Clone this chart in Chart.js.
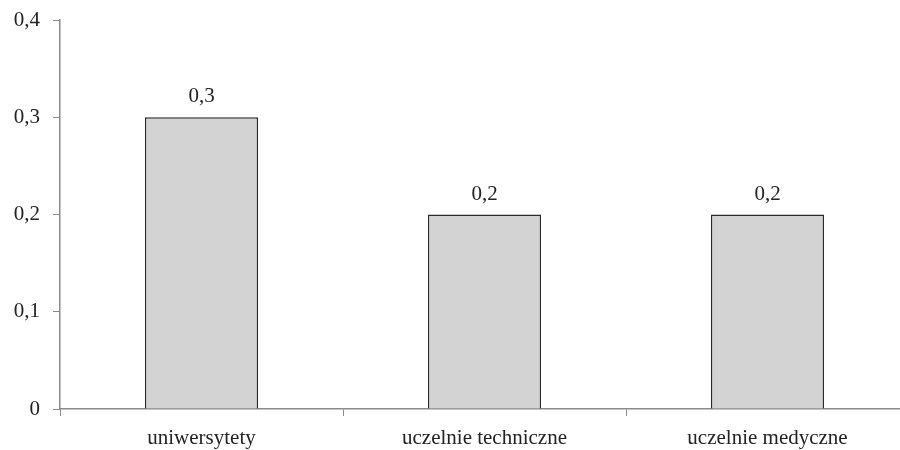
<!DOCTYPE html>
<html>
<head>
<meta charset="utf-8">
<script src="https://cdn.jsdelivr.net/npm/chart.js@4"></script>
<style>
  html, body { margin: 0; padding: 0; background: #fff; overflow: hidden; }
  #wrap { width: 909px; height: 450px; }
</style>
</head>
<body>
<div id="wrap"><canvas id="chart"></canvas></div>
<script>
const categories = ['uniwersytety', 'uczelnie techniczne', 'uczelnie medyczne'];
const values = [0.3, 0.2, 0.2];
const yTicks = [0, 0.1, 0.2, 0.3, 0.4];

const fmt = v => v === 0 ? '0' : v.toFixed(1).replace('.', ',');
const fontFamily = "'Liberation Serif', 'DejaVu Serif', serif";

// labels above each bar
const barLabels = {
    id: 'barLabels',
    afterDatasetsDraw(chart) {
        const ctx = chart.ctx;
        const meta = chart.getDatasetMeta(0);
        ctx.save();
        ctx.font = "21px " + fontFamily;
        ctx.fillStyle = '#222';
        ctx.textAlign = 'center';
        ctx.textBaseline = 'bottom';
        meta.data.forEach((bar, i) => {
            ctx.fillText(fmt(values[i]), bar.x, bar.y - 10);
        });
        ctx.restore();
    }
};

new Chart(document.getElementById('chart'), {
    type: 'bar',
    data: {
        labels: categories,
        datasets: [{
            data: values,
            backgroundColor: '#d3d3d4',
            borderColor: '#2a2a2a',
            borderWidth: 1.5,
            borderSkipped: 'bottom',
            categoryPercentage: 1,
            barPercentage: 0.4
        }]
    },
    options: {
        responsive: true,
        maintainAspectRatio: false,
        animation: false,
        layout: { padding: 0 },
        plugins: {
            legend: { display: false },
            tooltip: { enabled: false }
        },
        scales: {
            x: {
                grid: { display: true, drawOnChartArea: false, drawTicks: true, tickLength: 7, color: '#8a8a8a', offset: true },
                border: { color: '#8a8a8a', width: 1.5 },
                ticks: { color: '#222', font: { family: fontFamily, size: 21 }, padding: 10 },
                afterFit(scale) { scale.height = 41; }
            },
            y: {
                min: 0,
                max: 0.4,
                afterBuildTicks(scale) { scale.ticks = yTicks.map(v => ({ value: v })); },
                grid: { display: true, drawOnChartArea: false, drawTicks: true, tickLength: 7, color: '#8a8a8a' },
                border: { color: '#8a8a8a', width: 1.5 },
                ticks: { color: '#222', font: { family: fontFamily, size: 21 }, padding: 13, callback: v => fmt(v) },
                afterFit(scale) { scale.width = 60; scale.paddingTop = 20; }
            }
        }
    },
    plugins: [barLabels]
});
</script>
</body>
</html>
